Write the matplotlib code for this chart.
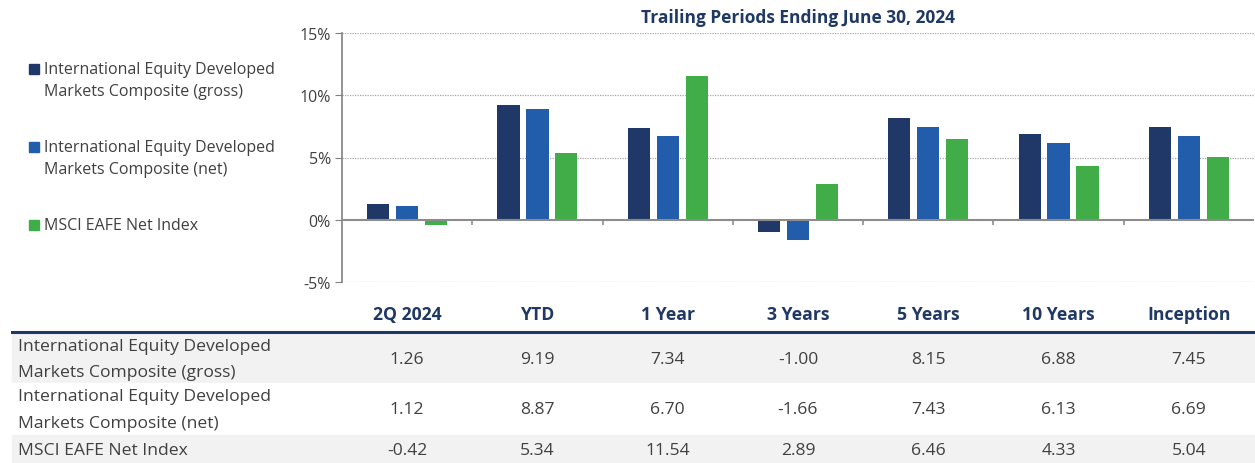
import matplotlib
matplotlib.use("Agg")
import matplotlib.pyplot as plt
import matplotlib.transforms as mtransforms
from matplotlib.patches import Rectangle
import numpy as np

categories = ["2Q 2024", "YTD", "1 Year", "3 Years", "5 Years", "10 Years", "Inception"]
gross = [1.26, 9.19, 7.34, -1.00, 8.15, 6.88, 7.45]
net = [1.12, 8.87, 6.70, -1.66, 7.43, 6.13, 6.69]
msci = [-0.42, 5.34, 11.54, 2.89, 6.46, 4.33, 5.04]
series_labels = ["International Equity Developed\nMarkets Composite (gross)",
                 "International Equity Developed\nMarkets Composite (net)",
                 "MSCI EAFE Net Index"]
yticks = [-5, 0, 5, 10, 15]
title = "Trailing Periods Ending June 30, 2024"

colors = ["#1F3868", "#215DAA", "#41AD49"]
navy = "#1F3864"
txt = "#404040"

plt.rcParams['font.family'] = ['Open Sans', 'DejaVu Sans']

W, H = 1255, 464
fig = plt.figure(figsize=(W / 100, H / 100), dpi=100)
ax = fig.add_axes([342 / W, 1 - 283 / H, (1254 - 342) / W, (283 - 34) / H])

x = np.arange(len(categories))
bw = 0.17
off = 0.222
for i, (vals, c) in enumerate(zip([gross, net, msci], colors)):
    ax.bar(x + (i - 1) * off, vals, width=bw, color=c, zorder=3)

ax.set_xlim(-0.5, len(categories) - 0.5)
ax.set_ylim(-5, 15)
ax.set_yticks(yticks)
ax.set_yticklabels([f"{v}%" for v in yticks], fontsize=11.5, color=txt)
ax.tick_params(axis='y', length=5, color="#808080", pad=3)
ax.set_xticks([])
for v in [-5, 5, 10, 15]:
    ax.axhline(v, color="#A6A6A6", lw=0.9, ls=(0, (1, 1)), zorder=1)
ax.axhline(0, color="#8C8C8C", lw=1.5, zorder=4)
for b in np.arange(0.5, len(categories) - 0.5, 1):
    ax.vlines(b, -0.4, 0, color="#8C8C8C", lw=1.2, zorder=4)
for s in ["top", "right", "bottom"]:
    ax.spines[s].set_visible(False)
ax.spines["left"].set_color("#808080")
ax.spines["left"].set_linewidth(1.2)

fig.text(798 / W, 1 - 18 / H, title, ha="center", va="center", fontsize=12.5,
         fontweight="bold", color=navy)

# legend
leg_y = [81, 159, 226]
for lab, c, yy in zip(series_labels, colors, leg_y):
    lines = lab.split("\n")
    first_y = yy - (len(lines) - 1) * 11
    fig.patches.append(Rectangle((29 / W, 1 - (first_y + 5) / H), 10 / W, 10 / H,
                                 transform=fig.transFigure, color=c, figure=fig))
    fig.text(44 / W, 1 - yy / H, lab, ha="left", va="center", fontsize=11.5,
             color=txt, linespacing=1.5)

# table
blend = mtransforms.blended_transform_factory(ax.transData, fig.transFigure)
for i, cat in enumerate(categories):
    fig.text(i, 1 - 315 / H, cat, transform=blend, ha="center", va="center",
             fontsize=12.7, fontweight="bold", color=navy)
fig.add_artist(plt.Line2D([12 / W, 1], [1 - 333 / H] * 2, color=navy, lw=2.2,
                          transform=fig.transFigure))
row_bounds = [(334, 384, "#F2F2F2"), (384, 436, "white"), (436, 464, "#F2F2F2")]
for (y0, y1, col) in row_bounds:
    fig.patches.append(Rectangle((12 / W, 1 - y1 / H), 1 - 12 / W, (y1 - y0) / H,
                                 transform=fig.transFigure, color=col, zorder=0, figure=fig))
row_centers = [360, 410.5, 451]
for vals, lab, yc in zip([gross, net, msci], series_labels, row_centers):
    fig.text(18 / W, 1 - yc / H, lab, ha="left", va="center", fontsize=12.6,
             color=txt, linespacing=1.88)
    for i, v in enumerate(vals):
        fig.text(i, 1 - yc / H, f"{v:.2f}", transform=blend, ha="center", va="center",
                 fontsize=12.6, color=txt)

fig.savefig("out.png", dpi=100)
